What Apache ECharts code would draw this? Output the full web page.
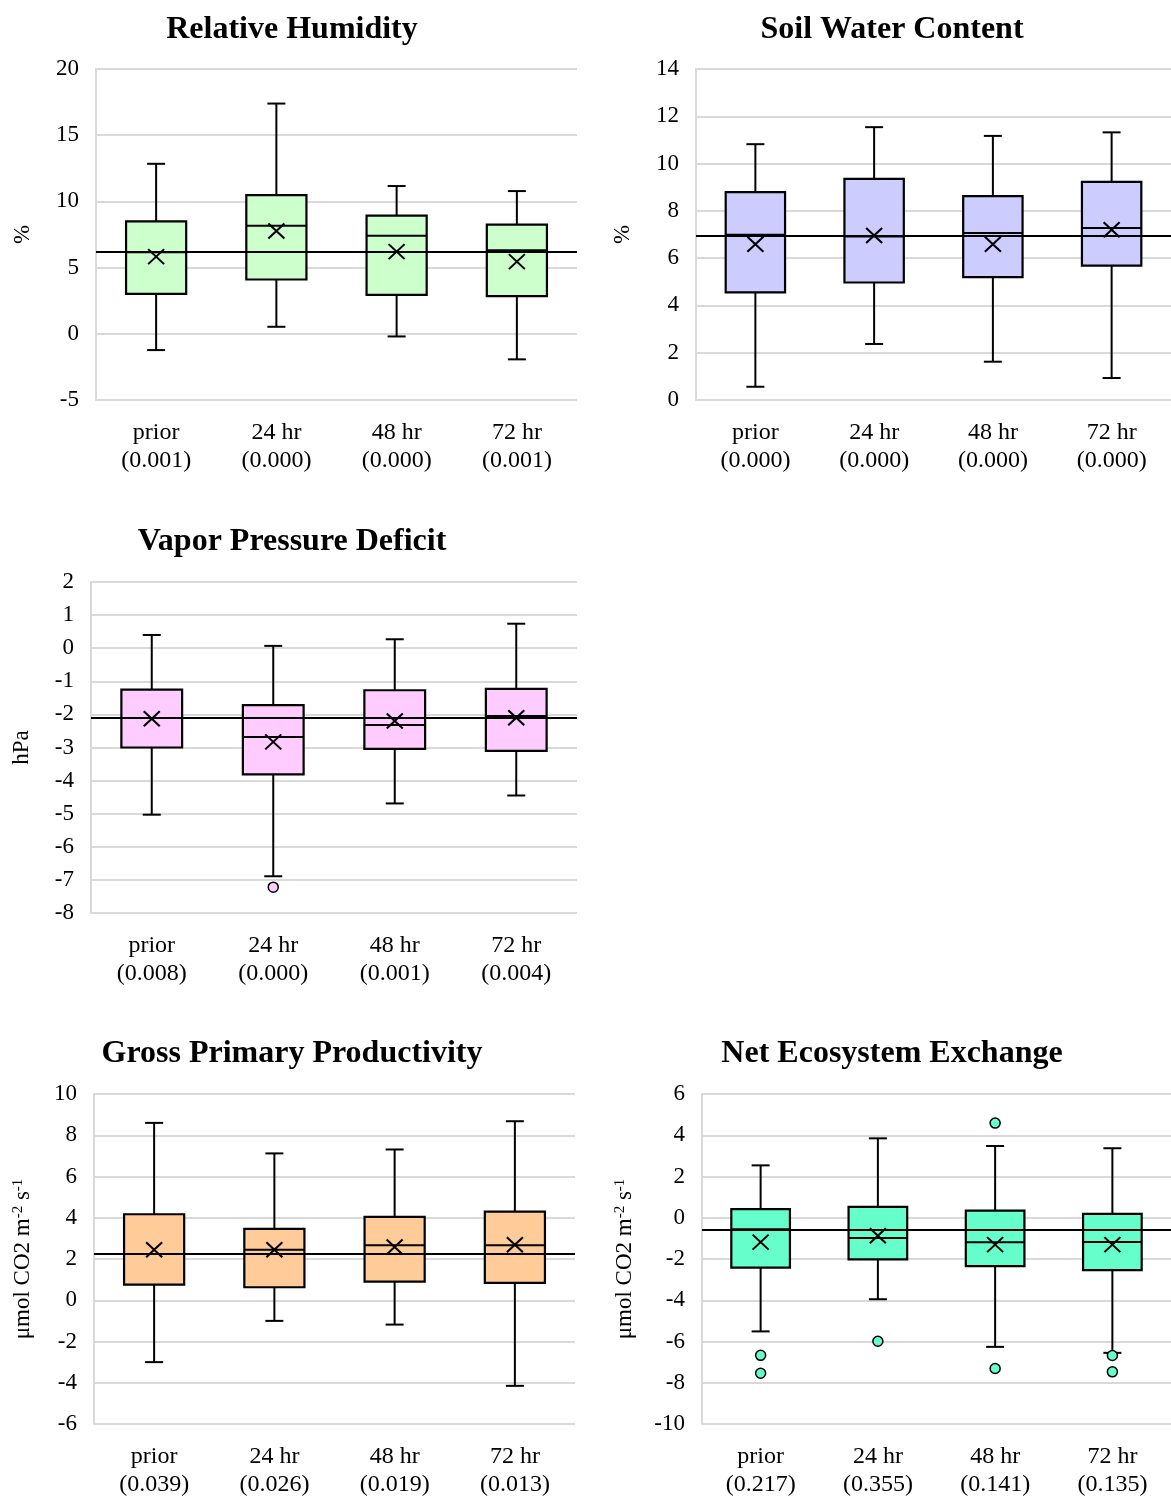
<!DOCTYPE html>
<html>
<head>
<meta charset="utf-8">
<script src="https://cdn.jsdelivr.net/npm/echarts@6/dist/echarts.min.js"></script>
<style>
  html, body { margin: 0; padding: 0; background: #fff; }
  #chart { width: 1171px; height: 1499px; }
</style>
</head>
<body>
<div id="chart"></div>
<script>
// Time points shared by every panel
const categories = ['prior', '24 hr', '48 hr', '72 hr'];

// Relative Humidity (%)
const rhPValues = ['0.001', '0.000', '0.000', '0.001'];
const rhMin = [-1.23, 0.53, -0.20, -1.93];
const rhQ1 = [3.02, 4.10, 2.94, 2.84];
const rhMedian = [6.16, 8.17, 7.41, 6.31];
const rhQ3 = [8.49, 10.48, 8.92, 8.24];
const rhMax = [12.84, 17.39, 11.16, 10.78];
const rhMean = [5.83, 7.76, 6.21, 5.45];
const rhOutliers = [];
const rhRef = 6.16;
const rhTicks = { min: -5, max: 20, interval: 5 };

// Soil Water Content (%)
const swcPValues = ['0.000', '0.000', '0.000', '0.000'];
const swcMin = [0.56, 2.37, 1.62, 0.93];
const swcQ1 = [4.55, 4.97, 5.20, 5.68];
const swcMedian = [6.99, 6.92, 7.06, 7.27];
const swcQ3 = [8.79, 9.35, 8.62, 9.23];
const swcMax = [10.82, 11.54, 11.17, 11.32];
const swcMean = [6.59, 6.96, 6.59, 7.20];
const swcOutliers = [];
const swcRef = 6.96;
const swcTicks = { min: 0, max: 14, interval: 2 };

// Vapor Pressure Deficit (hPa)
const vpdPValues = ['0.008', '0.000', '0.001', '0.004'];
const vpdMin = [-5.03, -6.89, -4.69, -4.45];
const vpdQ1 = [-3.00, -3.81, -3.04, -3.10];
const vpdMedian = [-2.11, -2.68, -2.32, -2.05];
const vpdQ3 = [-1.25, -1.72, -1.27, -1.23];
const vpdMax = [0.40, 0.07, 0.27, 0.74];
const vpdMean = [-2.13, -2.83, -2.20, -2.10];
const vpdOutliers = [[1, -7.22]];
const vpdRef = -2.11;
const vpdTicks = { min: -8, max: 2, interval: 1 };

// Gross Primary Productivity (μmol CO2 m-2 s-1)
const gppPValues = ['0.039', '0.026', '0.019', '0.013'];
const gppMin = [-3.00, -1.00, -1.18, -4.15];
const gppQ1 = [0.76, 0.63, 0.90, 0.84];
const gppMedian = [2.24, 2.45, 2.67, 2.67];
const gppQ3 = [4.17, 3.46, 4.04, 4.30];
const gppMax = [8.60, 7.12, 7.31, 8.68];
const gppMean = [2.45, 2.45, 2.58, 2.69];
const gppOutliers = [];
const gppRef = 2.24;
const gppTicks = { min: -6, max: 10, interval: 2 };

// Net Ecosystem Exchange (μmol CO2 m-2 s-1)
const neePValues = ['0.217', '0.355', '0.141', '0.135'];
const neeMin = [-5.51, -3.95, -6.26, -6.55];
const neeQ1 = [-2.42, -2.02, -2.35, -2.54];
const neeMedian = [-0.56, -0.98, -1.19, -1.18];
const neeQ3 = [0.42, 0.53, 0.35, 0.19];
const neeMax = [2.54, 3.85, 3.48, 3.37];
const neeMean = [-1.18, -0.87, -1.30, -1.30];
const neeOutliers = [[0, -6.67], [0, -7.54], [1, -5.99], [2, 4.59], [2, -7.31], [3, -6.68], [3, -7.47]];
const neeRef = -0.58;
const neeTicks = { min: -10, max: 6, interval: 2 };

const FONT = '"Liberation Serif", "Times New Roman", serif';
const GRID_COLOR = '#d9d9d9';

const panels = [
  { title: 'Relative Humidity', unit: '%', color: '#ccffcc', p: rhPValues,
    min: rhMin, q1: rhQ1, med: rhMedian, q3: rhQ3, max: rhMax, mean: rhMean,
    out: rhOutliers, ref: rhRef, ticks: rhTicks,
    grid: { left: 96, top: 69, width: 481, height: 331 }, titlePos: [292, 14], nameGap: 62 },
  { title: 'Soil Water Content', unit: '%', color: '#ccccff', p: swcPValues,
    min: swcMin, q1: swcQ1, med: swcMedian, q3: swcQ3, max: swcMax, mean: swcMean,
    out: swcOutliers, ref: swcRef, ticks: swcTicks,
    grid: { left: 696, top: 69, width: 478, height: 331 }, titlePos: [892, 14], nameGap: 62 },
  { title: 'Vapor Pressure Deficit', unit: 'hPa', color: '#ffccff', p: vpdPValues,
    min: vpdMin, q1: vpdQ1, med: vpdMedian, q3: vpdQ3, max: vpdMax, mean: vpdMean,
    out: vpdOutliers, ref: vpdRef, ticks: vpdTicks,
    grid: { left: 91, top: 582, width: 486, height: 331 }, titlePos: [292, 526], nameGap: 58 },
  { title: 'Gross Primary Productivity', unit: 'μmol CO2 m{sup|-2} s{sup|-1}', color: '#ffcc99', p: gppPValues,
    min: gppMin, q1: gppQ1, med: gppMedian, q3: gppQ3, max: gppMax, mean: gppMean,
    out: gppOutliers, ref: gppRef, ticks: gppTicks,
    grid: { left: 94, top: 1094, width: 481, height: 331 }, titlePos: [292, 1038], nameGap: 60 },
  { title: 'Net Ecosystem Exchange', unit: 'μmol CO2 m{sup|-2} s{sup|-1}', color: '#66ffcc', p: neePValues,
    min: neeMin, q1: neeQ1, med: neeMedian, q3: neeQ3, max: neeMax, mean: neeMean,
    out: neeOutliers, ref: neeRef, ticks: neeTicks,
    grid: { left: 702, top: 1094, width: 472, height: 331 }, titlePos: [892, 1038], nameGap: 66 }
];

// Box, whiskers and median drawn per category from the axis scales
function renderBox(params, api) {
  const idx = api.value(0);
  const band = api.size([1, 0])[0];
  const half = band * 0.25;
  const cap = 9;
  const pMin = api.coord([idx, api.value(1)]);
  const pQ1 = api.coord([idx, api.value(2)]);
  const pMed = api.coord([idx, api.value(3)]);
  const pQ3 = api.coord([idx, api.value(4)]);
  const pMax = api.coord([idx, api.value(5)]);
  const x = pQ1[0];
  const fill = params.seriesName;
  const line = { stroke: '#000', lineWidth: 2 };
  return {
    type: 'group',
    children: [
      { type: 'line', shape: { x1: x, y1: pQ3[1], x2: x, y2: pMax[1] }, style: line },
      { type: 'line', shape: { x1: x - cap, y1: pMax[1], x2: x + cap, y2: pMax[1] }, style: line },
      { type: 'line', shape: { x1: x, y1: pQ1[1], x2: x, y2: pMin[1] }, style: line },
      { type: 'line', shape: { x1: x - cap, y1: pMin[1], x2: x + cap, y2: pMin[1] }, style: line },
      { type: 'rect', shape: { x: x - half, y: pQ3[1], width: half * 2, height: pQ1[1] - pQ3[1] },
        style: { fill: fill, stroke: '#000', lineWidth: 2.2 } },
      { type: 'line', shape: { x1: x - half, y1: pMed[1], x2: x + half, y2: pMed[1] }, style: line }
    ]
  };
}

const option = {
  backgroundColor: '#fff',
  animation: false,
  title: [],
  grid: [],
  xAxis: [],
  yAxis: [],
  series: []
};

panels.forEach((pn, i) => {
  option.title.push({
    text: pn.title, left: pn.titlePos[0], top: pn.titlePos[1], textAlign: 'center', padding: 0,
    textStyle: { fontFamily: FONT, fontSize: 32, fontWeight: 'bold', color: '#000' }
  });
  option.grid.push(Object.assign({ containLabel: false }, pn.grid));
  option.xAxis.push({
    type: 'category', gridIndex: i, data: categories, boundaryGap: true,
    axisLine: { show: false }, axisTick: { show: false }, splitLine: { show: false },
    axisLabel: {
      margin: 19, color: '#000', fontFamily: FONT, fontSize: 24, lineHeight: 28,
      interval: 0,
      formatter: (v, k) => v + '\n(' + pn.p[k] + ')'
    }
  });
  option.yAxis.push({
    type: 'value', gridIndex: i, min: pn.ticks.min, max: pn.ticks.max, interval: pn.ticks.interval,
    name: pn.unit, nameLocation: 'middle', nameGap: pn.nameGap, nameRotate: 90,
    nameTextStyle: {
      color: '#000', fontFamily: FONT, fontSize: 23,
      rich: { sup: { fontFamily: FONT, fontSize: 15, lineHeight: 14, verticalAlign: 'top', color: '#000' } }
    },
    axisLine: { show: true, lineStyle: { color: GRID_COLOR, width: 2 } },
    axisTick: { show: false },
    splitLine: { show: true, lineStyle: { color: GRID_COLOR, width: 2 } },
    axisLabel: { color: '#000', fontFamily: FONT, fontSize: 23, margin: 17 }
  });

  const boxData = categories.map((c, k) => [k, pn.min[k], pn.q1[k], pn.med[k], pn.q3[k], pn.max[k]]);
  option.series.push({
    type: 'custom', name: pn.color, xAxisIndex: i, yAxisIndex: i,
    renderItem: renderBox, data: boxData, z: 2,
    encode: { x: 0, y: [1, 2, 3, 4, 5] },
    markLine: {
      silent: true, symbol: ['none', 'none'], label: { show: false },
      lineStyle: { color: '#000', width: 2, type: 'solid' },
      data: [{ yAxis: pn.ref }]
    }
  });
  option.series.push({
    type: 'scatter', xAxisIndex: i, yAxisIndex: i, z: 6,
    data: pn.out, symbol: 'circle', symbolSize: 10,
    itemStyle: { color: pn.color, borderColor: '#000', borderWidth: 1.5, opacity: 1 }
  });
  option.series.push({
    type: 'scatter', xAxisIndex: i, yAxisIndex: i, z: 7,
    data: categories.map((c, k) => [k, pn.mean[k]]),
    symbol: 'path://M0,0L10,10M10,0L0,10', symbolSize: [16, 15],
    itemStyle: { color: 'none', borderColor: '#000', borderWidth: 2, opacity: 1 }
  });
});

const chart = echarts.init(document.getElementById('chart'), null, { renderer: 'canvas' });
chart.setOption(option);
</script>
</body>
</html>
